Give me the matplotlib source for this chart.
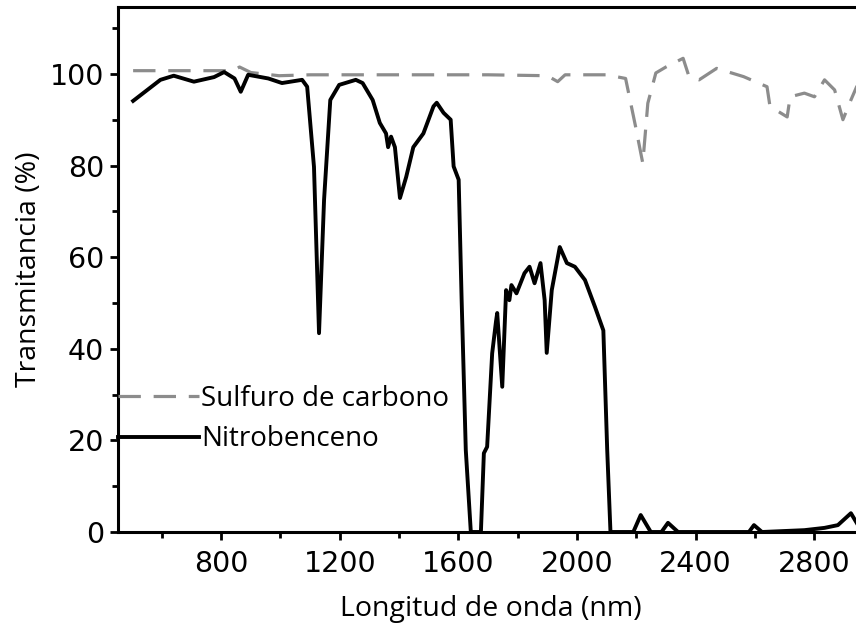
import matplotlib
matplotlib.use("Agg")
import matplotlib.pyplot as plt
from matplotlib.ticker import FixedLocator

# Nitrobenceno (solid black)
nb_x = [503, 595, 640, 708, 776, 810, 845, 866, 891, 959, 1005, 1073, 1090, 1113, 1130,
        1147, 1168, 1198, 1254, 1277, 1311, 1335, 1356, 1363, 1373, 1386, 1403, 1424, 1448,
        1482, 1516, 1527, 1550, 1574, 1584, 1601, 1611, 1625, 1642, 1676, 1686, 1697, 1714,
        1727, 1731, 1748, 1761, 1772, 1779, 1796, 1823, 1840, 1857, 1877, 1891, 1898, 1915,
        1942, 1966, 1993, 2027, 2061, 2089, 2102, 2113, 2190, 2215, 2249, 2285, 2307, 2341,
        2580, 2597, 2624, 2767, 2835, 2880, 2924, 2948, 2968]
nb_y = [94.1, 98.7, 99.6, 98.3, 99.3, 100.4, 99.0, 96.1, 99.8, 99.0, 98.0, 98.7, 97.2, 79.7, 43.4,
        72.5, 94.3, 97.6, 98.7, 98.0, 94.3, 89.3, 87.0, 84.0, 86.3, 84.0, 72.9, 77.5, 84.0,
        87.0, 92.9, 93.7, 91.5, 90.0, 79.8, 76.9, 50.7, 17.9, 0.0, 0.0, 17.2, 18.6, 39.0,
        46.0, 47.8, 31.7, 52.8, 50.6, 53.9, 52.1, 56.5, 57.9, 54.3, 58.7, 50.6, 39.1, 52.8,
        62.2, 58.7, 57.9, 55.0, 49.1, 44.0, 17.9, 0.0, 0.0, 3.7, 0.0, 0.0, 2.0, 0.0,
        0.0, 1.5, 0.0, 0.4, 0.9, 1.5, 4.1, 1.5, 2.6]

# Sulfuro de carbono (dashed gray)
sc_x = [503, 700, 840, 862, 900, 995, 1100, 1300, 1500, 1700, 1900, 1935, 1960, 2100, 2164,
        2198, 2222, 2239, 2266, 2300, 2358, 2378, 2412, 2471, 2562, 2641, 2651, 2709, 2719,
        2767, 2801, 2835, 2869, 2897, 2924, 2958]
sc_y = [100.7, 100.7, 100.7, 101.5, 100.3, 99.6, 99.8, 99.8, 99.8, 99.8, 99.6, 98.3, 99.8, 99.8, 99.0,
        88.4, 80.5, 93.6, 100.2, 101.5, 103.4, 99.4, 98.7, 101.2, 99.4, 97.2, 92.9, 90.6, 95.0,
        95.8, 95.0, 98.7, 96.5, 90.0, 94.3, 99.4]

x_major = [800, 1200, 1600, 2000, 2400, 2800]
x_minor = [600, 1000, 1400, 1800, 2200, 2600]
y_major = [0, 20, 40, 60, 80, 100]
y_minor = [10, 30, 50, 70, 90, 110]

fig = plt.figure(figsize=(8.56, 6.28), dpi=100)
ax = fig.add_axes([118/856, 96/628, 1 - 118/856 + 0.01, 525/628])

ln_sc, = ax.plot(sc_x, sc_y, color="#8c8c8c", lw=2.3, label="Sulfuro de carbono")
ln_sc.set_dashes([7, 4])
ax.plot(nb_x, nb_y, color="black", lw=2.8, label="Nitrobenceno", solid_joinstyle="round")

ax.set_xlim(452, 2970)
ax.set_ylim(0, 114.6)
ax.xaxis.set_major_locator(FixedLocator(x_major))
ax.xaxis.set_minor_locator(FixedLocator(x_minor))
ax.yaxis.set_major_locator(FixedLocator(y_major))
ax.yaxis.set_minor_locator(FixedLocator(y_minor))

for s in ["left", "bottom", "top"]:
    ax.spines[s].set_linewidth(2.2)
ax.spines["right"].set_visible(False)
ax.tick_params(which="major", direction="out", length=6, width=2, pad=4)
ax.tick_params(which="minor", direction="out", length=4, width=2)
ax.tick_params(axis="x", which="major", pad=7)
for lbl in ax.get_xticklabels() + ax.get_yticklabels():
    lbl.set_family("DejaVu Sans")
    lbl.set_fontsize(20.5)

ax.set_xlabel("Longitud de onda (nm)", family="Open Sans", fontsize=20.5, labelpad=12)
ax.set_ylabel("Transmitancia (%)", family="Open Sans", fontsize=20.5, labelpad=5)

leg = ax.legend(loc="lower left", bbox_to_anchor=(0.0, 0.15), frameon=False,
                prop={"family": "Open Sans", "size": 20}, handlelength=2.9,
                handletextpad=0.1, borderaxespad=0, borderpad=0, labelspacing=0.45)

fig.savefig("out.png", dpi=100, facecolor="white")
